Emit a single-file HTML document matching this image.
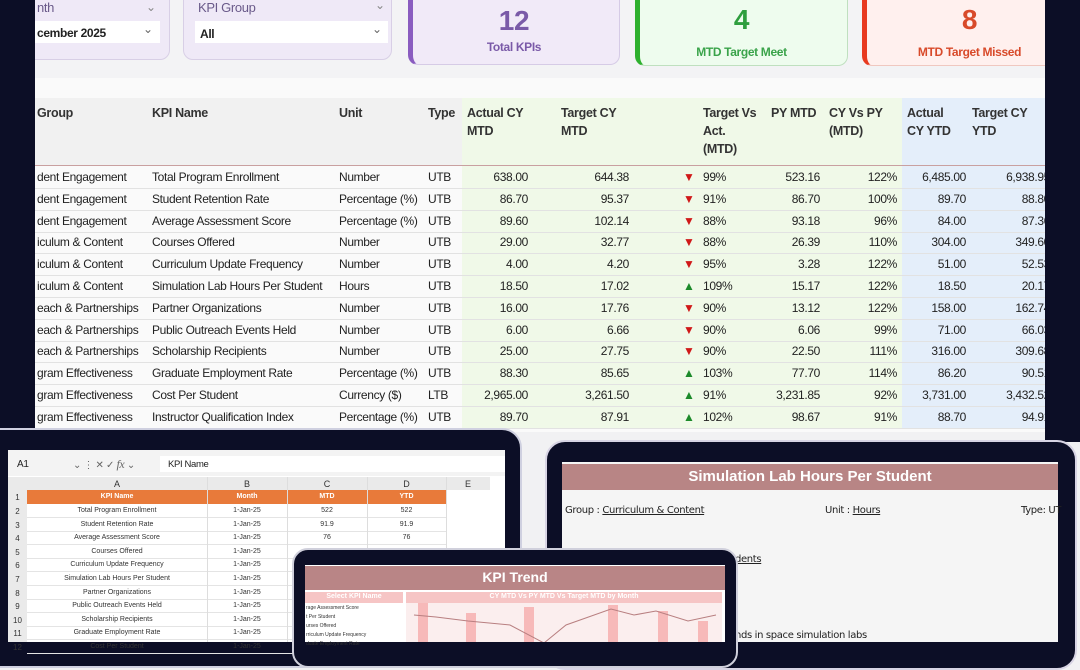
<!DOCTYPE html>
<html><head><meta charset="utf-8"><style>
*{margin:0;padding:0;box-sizing:border-box}
body{width:1080px;height:642px;overflow:hidden;position:relative;background:#f1f1f3;font-family:"Liberation Sans",sans-serif;color:#222}
div{position:absolute}
.nv{background:#0c0e26}
.t{white-space:nowrap;font-size:12px;letter-spacing:-0.35px}
.r{text-align:right}
.hd{font-size:12.5px;font-weight:bold;color:#333;line-height:18px;letter-spacing:-0.3px}
.card{border-radius:10px}
.x{font-size:7px;white-space:nowrap;text-align:center;color:#333}
</style></head><body>
<!-- top cards -->
<div style="left:35px;top:0;width:1010px;height:78px;background:#f3f3f5"></div>
<div class="card" style="left:20px;top:-10px;width:150px;height:70px;background:#efe9f7;border:1px solid #d8cfe6"></div>
<div class="t" style="left:37px;top:0;font-size:13px;color:#6a5a8a">nth</div>
<div class="t" style="left:146px;top:0;color:#888">&#8964;</div>
<div style="left:35px;top:21px;width:125px;height:22px;background:#fff"></div>
<div class="t" style="left:37px;top:26px;font-weight:bold;font-size:12px">cember 2025</div>
<div class="t" style="left:143px;top:22px;color:#666">&#8964;</div>
<div class="card" style="left:183px;top:-10px;width:209px;height:70px;background:#efe9f7;border:1px solid #d8cfe6"></div>
<div class="t" style="left:198px;top:0;font-size:13px;color:#6a5a8a">KPI Group</div>
<div class="t" style="left:375px;top:-2px;color:#888">&#8964;</div>
<div style="left:195px;top:21px;width:193px;height:22px;background:#fff"></div>
<div class="t" style="left:200px;top:27px;font-weight:bold;font-size:12px">All</div>
<div class="t" style="left:372px;top:22px;color:#666">&#8964;</div>
<div class="card" style="left:408px;top:-10px;width:212px;height:75px;background:#f1eaf8;border:1px solid #d6cbe6;border-left:5px solid #8a5cc0"></div>
<div class="t" style="left:408px;top:5px;width:212px;text-align:center;font-size:28px;font-weight:bold;color:#7a5aa8">12</div>
<div class="t" style="left:408px;top:40px;width:212px;text-align:center;font-size:12px;font-weight:bold;color:#7a5aa8">Total KPIs</div>
<div class="card" style="left:635px;top:-10px;width:213px;height:76px;background:#eefcee;border:1px solid #bfe0bf;border-left:5px solid #2eb02e"></div>
<div class="t" style="left:635px;top:4px;width:213px;text-align:center;font-size:28px;font-weight:bold;color:#2e9e3e">4</div>
<div class="t" style="left:635px;top:45px;width:213px;text-align:center;font-size:12px;font-weight:bold;color:#3aa34a">MTD Target Meet</div>
<div class="card" style="left:862px;top:-10px;width:200px;height:76px;background:#fff0ee;border:1px solid #f0c8c0;border-left:5px solid #e83a20"></div>
<div class="t" style="left:862px;top:4px;width:215px;text-align:center;font-size:28px;font-weight:bold;color:#d84a2a">8</div>
<div class="t" style="left:862px;top:45px;width:215px;text-align:center;font-size:12px;font-weight:bold;color:#d84a2a">MTD Target Missed</div>
<!-- table -->
<div style="left:35px;top:78px;width:1010px;height:354px;background:#fafafa"></div>
<div style="left:35px;top:98px;width:427px;height:68px;background:#f1f1f1"></div>
<div style="left:462px;top:98px;width:440px;height:330px;background:#f0f9e8"></div>
<div style="left:902px;top:98px;width:143px;height:330px;background:#e4eefa"></div>
<div style="left:35px;top:165px;width:1010px;height:1px;background:#c9a0a0"></div>
<div class="hd" style="left:37px;top:104px">Group</div>
<div class="hd" style="left:152px;top:104px">KPI Name</div>
<div class="hd" style="left:339px;top:104px">Unit</div>
<div class="hd" style="left:428px;top:104px">Type</div>
<div class="hd" style="left:467px;top:104px">Actual CY<br>MTD</div>
<div class="hd" style="left:561px;top:104px">Target CY<br>MTD</div>
<div class="hd" style="left:703px;top:104px">Target Vs<br>Act.<br>(MTD)</div>
<div class="hd" style="left:771px;top:104px">PY MTD</div>
<div class="hd" style="left:829px;top:104px">CY Vs PY<br>(MTD)</div>
<div class="hd" style="left:907px;top:104px">Actual<br>CY YTD</div>
<div class="hd" style="left:972px;top:104px">Target CY<br>YTD</div>
<div id="rows"></div>
<div class="nv" style="left:0;top:0;width:35px;height:432px"></div>
<div class="nv" style="left:1045px;top:0;width:35px;height:442px"></div>
<!-- left tablet -->
<div class="nv" style="left:-20px;top:428px;width:542px;height:240px;border-radius:20px;border:2px solid #cfd0e0"></div>
<div style="left:8px;top:450px;width:497px;height:192px;background:#fff"></div>
<div style="left:8px;top:450px;width:497px;height:26px;background:#f3f3f3"></div>
<div class="t" style="left:17px;top:459px;font-size:10px">A1</div>
<div class="t" style="left:73px;top:457px;font-size:10px;color:#666">&#8964; &#8942; &#10005; &#10003; <i style="font-family:'Liberation Serif';font-size:12px">fx</i> &#8964;</div>
<div style="left:160px;top:456px;width:345px;height:16px;background:#fff"></div>
<div class="t" style="left:168px;top:459px;font-size:9.5px">KPI Name</div>
<div style="left:8px;top:477px;width:482px;height:13px;background:#eaeaea"></div>
<div class="x" style="left:27px;top:479px;width:180px;font-size:9px">A</div>
<div class="x" style="left:207px;top:479px;width:80px;font-size:9px">B</div>
<div class="x" style="left:287px;top:479px;width:80px;font-size:9px">C</div>
<div class="x" style="left:367px;top:479px;width:79px;font-size:9px">D</div>
<div class="x" style="left:446px;top:479px;width:44px;font-size:9px">E</div>
<div style="left:27px;top:490px;width:419px;height:14px;background:#e87a3a"></div>
<div class="x" style="left:27px;top:493px;width:180px;color:#fff;font-weight:bold">KPI Name</div>
<div class="x" style="left:207px;top:493px;width:80px;color:#fff;font-weight:bold">Month</div>
<div class="x" style="left:287px;top:493px;width:80px;color:#fff;font-weight:bold">MTD</div>
<div class="x" style="left:367px;top:493px;width:79px;color:#fff;font-weight:bold">YTD</div>
<div id="xl"></div>
<!-- right tablet -->
<div class="nv" style="left:545px;top:440px;width:532px;height:230px;border-radius:20px;border:2px solid #d8d4e4"></div>
<div style="left:562px;top:462px;width:496px;height:180px;background:#f5f5f5"></div>
<div style="left:562px;top:464px;width:496px;height:26px;background:#b88585"></div>
<div class="t" style="left:562px;top:468px;width:496px;text-align:center;color:#fff;font-weight:bold;font-size:15px;letter-spacing:0">Simulation Lab Hours Per Student</div>
<div class="t" style="left:565px;top:505px;font-size:10px;font-family:'DejaVu Sans'">Group : <u>Curriculum &amp; Content</u></div>
<div class="t" style="left:825px;top:505px;font-size:10px;font-family:'DejaVu Sans'">Unit : <u>Hours</u></div>
<div class="t" style="left:1021px;top:505px;font-size:10px;font-family:'DejaVu Sans'">Type: UT</div>
<div class="t" style="left:735px;top:554px;font-size:10px;font-family:'DejaVu Sans'"><u>dents</u></div>
<div class="t" style="left:735px;top:630px;font-size:10px;font-family:'DejaVu Sans'">nds in space simulation labs</div>
<!-- middle tablet -->
<div class="nv" style="left:292px;top:548px;width:446px;height:120px;border-radius:16px;border:2px solid #d0d0dc"></div>
<div style="left:305px;top:565px;width:420px;height:77px;background:#fff"></div>
<div style="left:305px;top:566px;width:420px;height:24px;background:#b98586"></div>
<div class="t" style="left:305px;top:569px;width:420px;text-align:center;color:#fff;font-weight:bold;font-size:14px;letter-spacing:0">KPI Trend</div>
<div style="left:305px;top:592px;width:98px;height:11px;background:#f6c5c5"></div>
<div class="x" style="left:305px;top:593px;width:98px;color:#fff;font-weight:bold">Select KPI Name</div>
<div class="x" style="left:306px;top:604px;text-align:left;font-size:5px;line-height:9px">rage Assessment Score<br>t Per Student<br>urses Offered<br>rriculum Update Frequency<br>duate Employment Rate</div>
<div style="left:406px;top:592px;width:316px;height:50px;background:#fbeeee"></div>
<div style="left:406px;top:592px;width:316px;height:11px;background:#f6c5c5"></div>
<div class="x" style="left:406px;top:593px;width:316px;color:#fff;font-weight:bold">CY MTD Vs PY MTD Vs Target MTD by Month</div>
<svg style="position:absolute;left:406px;top:603px" width="316" height="39">
<g fill="#f7b9b9"><rect x="12" y="0" width="10" height="39"/><rect x="60" y="10" width="10" height="29"/><rect x="118" y="4" width="10" height="35"/><rect x="202" y="2" width="10" height="37"/><rect x="252" y="8" width="10" height="31"/><rect x="292" y="18" width="10" height="21"/></g>
<polyline fill="none" stroke="#b87f80" stroke-width="1" points="8,12 30,14 62,18 104,22 138,40 160,22 205,6 228,12 250,8 282,18 310,12"/>
</svg>
<script>
var R=[["dent Engagement","Total Program Enrollment","Number","UTB","638.00","644.38",0,"99%","523.16","122%","6,485.00","6,938.95"],
["dent Engagement","Student Retention Rate","Percentage (%)","UTB","86.70","95.37",0,"91%","86.70","100%","89.70","88.80"],
["dent Engagement","Average Assessment Score","Percentage (%)","UTB","89.60","102.14",0,"88%","93.18","96%","84.00","87.36"],
["iculum &amp; Content","Courses Offered","Number","UTB","29.00","32.77",0,"88%","26.39","110%","304.00","349.60"],
["iculum &amp; Content","Curriculum Update Frequency","Number","UTB","4.00","4.20",0,"95%","3.28","122%","51.00","52.53"],
["iculum &amp; Content","Simulation Lab Hours Per Student","Hours","UTB","18.50","17.02",1,"109%","15.17","122%","18.50","20.17"],
["each &amp; Partnerships","Partner Organizations","Number","UTB","16.00","17.76",0,"90%","13.12","122%","158.00","162.74"],
["each &amp; Partnerships","Public Outreach Events Held","Number","UTB","6.00","6.66",0,"90%","6.06","99%","71.00","66.03"],
["each &amp; Partnerships","Scholarship Recipients","Number","UTB","25.00","27.75",0,"90%","22.50","111%","316.00","309.68"],
["gram Effectiveness","Graduate Employment Rate","Percentage (%)","UTB","88.30","85.65",1,"103%","77.70","114%","86.20","90.51"],
["gram Effectiveness","Cost Per Student","Currency ($)","LTB","2,965.00","3,261.50",2,"91%","3,231.85","92%","3,731.00","3,432.52"],
["gram Effectiveness","Instructor Qualification Index","Percentage (%)","UTB","89.70","87.91",1,"102%","98.67","91%","88.70","94.91"]];
var h="";
R.forEach(function(r,i){var y=167+i*21.8;
h+='<div style="left:35px;top:'+(y+21)+'px;width:1010px;height:1px;background:#e2e2e2"></div>';
var c=function(x,s,st){h+='<div class="t" style="left:'+x+'px;top:'+(y+3)+'px;'+(st||'')+'">'+s+'</div>';};
var rr=function(x,s){h+='<div class="t r" style="left:'+(x-90)+'px;width:90px;top:'+(y+3)+'px">'+s+'</div>';};
c(37,r[0]);c(152,r[1]);c(339,r[2]);c(428,r[3]);rr(528,r[4]);rr(629,r[5]);
var a=r[6]==0?'<span style="color:#d01818;font-size:12px">&#9660;</span>':'<span style="color:#1c8a2a;font-size:12px">&#9650;</span>';
c(683,a);c(703,r[7]);rr(820,r[8]);rr(897,r[9]);rr(966,r[10]);rr(1050,r[11]);});
document.getElementById("rows").outerHTML=h;
var X=["Total Program Enrollment","Student Retention Rate","Average Assessment Score","Courses Offered","Curriculum Update Frequency","Simulation Lab Hours Per Student","Partner Organizations","Public Outreach Events Held","Scholarship Recipients","Graduate Employment Rate","Cost Per Student"];
var V=[["522","522"],["91.9","91.9"],["76","76"]];
var g="";
g+='<div style="left:8px;top:477px;width:19px;height:165px;background:#eaeaea"></div>';
g+='<div class="x" style="left:8px;top:493px;width:19px;font-size:8px">1</div>';
X.forEach(function(n,i){var y=504+i*13.6;
g+='<div style="left:27px;top:'+(y+13)+'px;width:419px;height:1px;background:#e4e4e4"></div>';
g+='<div class="x" style="left:8px;top:'+(y+3)+'px;width:19px;font-size:8px">'+(i+2)+'</div>';
g+='<div class="x" style="left:27px;top:'+(y+3)+'px;width:180px">'+n+'</div>';
g+='<div class="x" style="left:207px;top:'+(y+3)+'px;width:80px">1-Jan-25</div>';
if(V[i]){g+='<div class="x" style="left:287px;top:'+(y+3)+'px;width:80px">'+V[i][0]+'</div><div class="x" style="left:367px;top:'+(y+3)+'px;width:79px">'+V[i][1]+'</div>';}
});
["207","287","367","446"].forEach(function(x){g+='<div style="left:'+x+'px;top:477px;width:1px;height:165px;background:#ddd"></div>';});
document.getElementById("xl").outerHTML=g;
</script>
</body></html>
